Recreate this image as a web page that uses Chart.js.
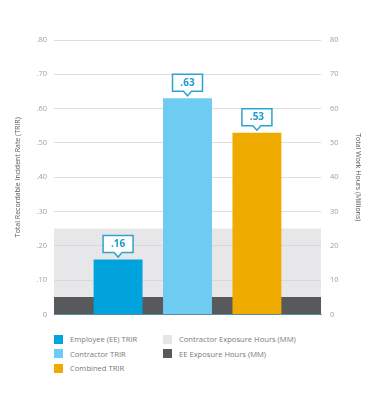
<!DOCTYPE html>
<html>
<head>
<meta charset="utf-8">
<script src="https://cdn.jsdelivr.net/npm/chart.js@4.4.1/dist/chart.umd.min.js"></script>
<style>
  body { margin: 0; background: #fff; font-family: 'Open Sans', sans-serif; }
  #wrap { position: relative; width: 376px; height: 410px; }
  #legend { position: absolute; left: 54px; top: 332px; font-size: 7.6px; color: #7a7a7a; }
  .col { position: absolute; top: 0; white-space: nowrap; }
  .item { height: 14.5px; display: flex; align-items: center; }
  .sw { width: 9px; height: 9px; margin-right: 7px; display: inline-block; }
</style>
</head>
<body>
<div id="wrap">
  <canvas id="chart" width="376" height="328"></canvas>
  <div id="legend"></div>
</div>
<script>
// values
const categories = [''];
const trirNames = ['Employee (EE) TRIR', 'Contractor TRIR', 'Combined TRIR'];
const trirValues = [0.16, 0.63, 0.53];
const trirColors = ['#00a3dc', '#6ecbf2', '#f0ab00'];
const hoursNames = ['Contractor Exposure Hours (MM)', 'EE Exposure Hours (MM)'];
const hoursValues = [25, 5];
const hoursColors = ['rgba(212, 212, 216, 0.55)', '#58595b'];
const legendHoursColors = ['#e6e6e8', '#58595b'];
const leftTicks = [0, 0.1, 0.2, 0.3, 0.4, 0.5, 0.6, 0.7, 0.8];
const rightTicks = [0, 10, 20, 30, 40, 50, 60, 70, 80];

const datasets = [];
trirNames.forEach((name, i) => {
  datasets.push({
    label: name,
    data: [trirValues[i]],
    backgroundColor: trirColors[i],
    yAxisID: 'y',
    categoryPercentage: 0.78,
    barPercentage: 0.705,
    order: 0,
    callout: true
  });
});
// exposure hours fill the whole plot width behind the TRIR bars
hoursNames.forEach((name, i) => {
  datasets.push({
    label: name,
    data: [hoursValues[i]],
    backgroundColor: hoursColors[i],
    yAxisID: 'y1',
    grouped: false,
    categoryPercentage: 1,
    barPercentage: 1,
    order: 2 - i
  });
});

// callout boxes above the TRIR bars
const calloutPlugin = {
  id: 'callout',
  afterDatasetsDraw(chart) {
    const ctx = chart.ctx;
    chart.data.datasets.forEach((ds, di) => {
      if (!ds.callout) return;
      const bar = chart.getDatasetMeta(di).data[0];
      const w = 30, h = 17, tip = 4.5, gap = 2.5;
      const bottom = bar.y - gap - tip;
      const left = bar.x - w / 2;
      ctx.save();
      ctx.beginPath();
      ctx.moveTo(left, bottom - h);
      ctx.lineTo(left + w, bottom - h);
      ctx.lineTo(left + w, bottom);
      ctx.lineTo(bar.x + 4, bottom);
      ctx.lineTo(bar.x, bottom + tip);
      ctx.lineTo(bar.x - 4, bottom);
      ctx.lineTo(left, bottom);
      ctx.closePath();
      ctx.fillStyle = '#fff';
      ctx.fill();
      ctx.strokeStyle = '#2ea3cf';
      ctx.lineWidth = 1.5;
      ctx.stroke();
      ctx.fillStyle = '#1e9ccf';
      ctx.font = 'bold 10px "Open Sans"';
      ctx.textAlign = 'center';
      ctx.textBaseline = 'middle';
      ctx.fillText(ds.data[0].toFixed(2).replace(/^0/, ''), bar.x, bottom - h / 2 + 0.5);
      ctx.restore();
    });
  }
};

const tickFont = { family: 'Open Sans', size: 7.5 };
const titleFont = { family: 'Open Sans', size: 7 };

const chart = new Chart(document.getElementById('chart'), {
  type: 'bar',
  data: { labels: categories, datasets: datasets },
  options: {
    responsive: false,
    animation: false,
    layout: { padding: { top: 40, bottom: 2, left: 0, right: 0 } },
    plugins: { legend: { display: false }, tooltip: { enabled: false } },
    scales: {
      x: {
        display: true,
        z: 1,
        ticks: { display: false },
        grid: { display: false },
        border: { color: '#3aa6d0', width: 1 }
      },
      y: {
        position: 'left',
        min: 0,
        max: 0.8,
        afterBuildTicks: s => { s.ticks = leftTicks.map(v => ({ value: v })); },
        afterFit: s => { s.width = 54; },
        ticks: {
          color: '#a0a0a0',
          font: tickFont,
          padding: 7,
          callback: v => v === 0 ? '0' : v.toFixed(2).replace(/^0/, '')
        },
        grid: { color: '#dedede', drawTicks: false },
        border: { display: false },
        title: {
          display: true,
          text: 'Total Recordable Incident Rate (TRIR)',
          color: '#555',
          font: titleFont,
          padding: { top: 14 }
        }
      },
      y1: {
        position: 'right',
        min: 0,
        max: 80,
        afterBuildTicks: s => { s.ticks = rightTicks.map(v => ({ value: v })); },
        afterFit: s => { s.width = 55; },
        ticks: { color: '#a0a0a0', font: tickFont, padding: 9 },
        grid: { display: false, drawTicks: false },
        border: { display: false },
        title: {
          display: true,
          text: 'Total Work Hours (Millions)',
          color: '#555',
          font: titleFont,
          padding: { top: 14 }
        }
      }
    }
  },
  plugins: [calloutPlugin]
});

// legend in two columns
const legend = document.getElementById('legend');
const cols = [trirNames.map((n, i) => [n, trirColors[i]]), hoursNames.map((n, i) => [n, legendHoursColors[i]])];
cols.forEach((col, ci) => {
  const div = document.createElement('div');
  div.className = 'col';
  div.style.left = (ci * 109) + 'px';
  col.forEach(([name, color]) => {
    const it = document.createElement('div');
    it.className = 'item';
    it.innerHTML = '<span class="sw" style="background:' + color + '"></span>' + name;
    div.appendChild(it);
  });
  legend.appendChild(div);
});
</script>
</body>
</html>
